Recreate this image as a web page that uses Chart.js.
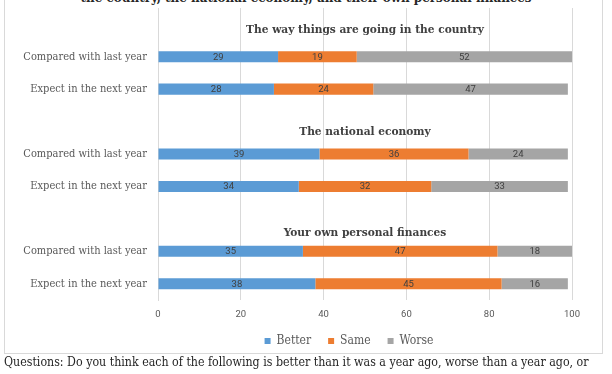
<!DOCTYPE html>
<html>
<head>
<meta charset="utf-8">
<script src="https://cdn.jsdelivr.net/npm/chart.js@4.4.1/dist/chart.umd.min.js"></script>
<style>
  html, body { margin: 0; padding: 0; background: #fff; width: 612px; height: 374px; overflow: hidden; position: relative; }
  #title { position: absolute; left: 0; width: 612px; top: -9px; text-align: center; font-family: "DejaVu Serif Condensed", "DejaVu Serif", serif; font-weight: bold; font-size: 13.3px; line-height: 13px; color: #262626; white-space: nowrap; }
  #frame { position: absolute; left: 4px; top: -20px; width: 599px; height: 374px; box-sizing: border-box; border: 1px solid #d9d9d9; }
  #chart { position: absolute; left: 0; top: 0; }
  #note { position: absolute; left: 4px; top: 355px; font-family: "DejaVu Serif Condensed", "DejaVu Serif", serif; font-size: 12.3px; line-height: 15px; color: #262626; white-space: nowrap; }
</style>
</head>
<body>
<div id="frame"></div>
<div id="title">the country, the national economy, and their own personal finances</div>
<canvas id="chart" width="612" height="374"></canvas>
<div id="note">Questions: Do you think each of the following is better than it was a year ago, worse than a year ago, or</div>
<script>
// ---- data ----
const sections = ['The way things are going in the country', 'The national economy', 'Your own personal finances'];
const rowLabels = ['Compared with last year', 'Expect in the next year'];
const better = [29, 28, 39, 34, 35, 38];
const same   = [19, 24, 36, 32, 47, 45];
const worse  = [52, 47, 24, 33, 18, 16];
const seriesNames = ['Better', 'Same', 'Worse'];
const xTicks = [0, 20, 40, 60, 80, 100];

// build category list: one blank header row per section, then its two rows
const categories = [];
const idxMap = [];
sections.forEach((s, si) => {
  categories.push('');
  idxMap.push(-1);
  rowLabels.forEach((r, ri) => { categories.push(r); idxMap.push(si * 2 + ri); });
});
const expand = arr => idxMap.map(i => i < 0 ? null : arr[i]);

const serif = '"DejaVu Serif Condensed", "DejaVu Serif", serif';
const sans = 'Roboto, "Liberation Sans", sans-serif';

const valueLabels = {
  id: 'valueLabels',
  afterDatasetsDraw(chart) {
    const ctx = chart.ctx;
    ctx.save();
    ctx.font = '9.5px ' + sans;
    ctx.fillStyle = '#404040';
    ctx.textAlign = 'center';
    ctx.textBaseline = 'middle';
    chart.data.datasets.forEach((ds, di) => {
      const meta = chart.getDatasetMeta(di);
      meta.data.forEach((bar, i) => {
        const v = ds.data[i];
        if (v == null) return;
        const p = bar.getProps(['x', 'y', 'base'], true);
        ctx.fillText(String(v), (p.x + p.base) / 2, p.y + 0.5);
      });
    });
    ctx.restore();
  }
};

const sectionHeaders = {
  id: 'sectionHeaders',
  afterDraw(chart) {
    const ctx = chart.ctx;
    const ys = chart.scales.y;
    const area = chart.chartArea;
    const shift = [6, 10, 14];
    ctx.save();
    ctx.font = 'bold 11.8px ' + serif;
    ctx.fillStyle = '#404040';
    ctx.textAlign = 'center';
    ctx.textBaseline = 'middle';
    sections.forEach((s, si) => {
      const y = ys.getPixelForValue(si * 3) + shift[si];
      ctx.fillText(s, (area.left + area.right) / 2, y);
    });
    ctx.restore();
  }
};

// nudge the legend block to sit under the plot, as in the source
const legendShift = {
  id: 'legendShift',
  afterLayout(chart) {
    const lg = chart.legend;
    if (!lg) return;
    lg.left += 63;
    lg.right += 63;
  }
};

new Chart(document.getElementById('chart'), {
  type: 'bar',
  data: {
    labels: categories,
    datasets: [
      { label: seriesNames[0], data: expand(better), backgroundColor: '#5B9BD5' },
      { label: seriesNames[1], data: expand(same), backgroundColor: '#ED7D31' },
      { label: seriesNames[2], data: expand(worse), backgroundColor: '#A5A5A5' }
    ]
  },
  options: {
    indexAxis: 'y',
    responsive: false,
    animation: false,
    devicePixelRatio: 1,
    datasets: { bar: { barPercentage: 0.34, categoryPercentage: 1 } },
    layout: { padding: { left: 0, right: 40, top: 8, bottom: 17 } },
    scales: {
      x: {
        stacked: true,
        min: 0, max: 100,
        afterBuildTicks: s => { s.ticks = xTicks.map(v => ({ value: v })); },
        grid: { color: '#d9d9d9', drawTicks: false },
        border: { display: false },
        ticks: { color: '#595959', font: { family: sans, size: 9.5 }, padding: 9 },
        afterFit: s => { s.height = 18; }
      },
      y: {
        stacked: true,
        grid: { display: false, drawTicks: false },
        border: { color: '#d9d9d9' },
        ticks: { color: '#595959', font: { family: serif, size: 11 }, padding: 11 },
        afterFit: s => { s.width = 158; s.paddingTop = 0; s.paddingBottom = 0; }
      }
    },
    plugins: {
      legend: {
        position: 'bottom',
        labels: { boxWidth: 6, boxHeight: 6, padding: 17, color: '#595959', font: { family: serif, size: 12 } }
      },
      tooltip: { enabled: false },
      title: { display: false }
    }
  },
  plugins: [valueLabels, sectionHeaders, legendShift]
});
</script>
</body>
</html>
